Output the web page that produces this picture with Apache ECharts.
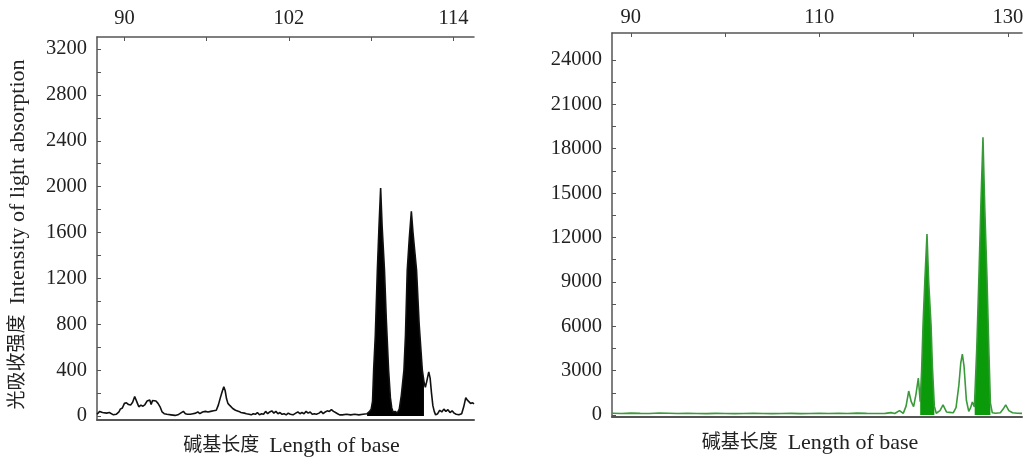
<!DOCTYPE html>
<html>
<head>
<meta charset="utf-8">
<script src="https://cdn.jsdelivr.net/npm/echarts@6/dist/echarts.min.js"></script>
<style>
  html, body { margin: 0; padding: 0; background: #fff; }
  #main { width: 1024px; height: 460px; }
</style>
</head>
<body>
<div id="main"></div>
<script>
// 左图：碱基长度 / 光吸收强度
var leftX = [88.0, 88.2, 88.4, 88.5, 88.7, 88.9, 89.0, 89.2, 89.4, 89.5, 89.6, 89.7, 89.85, 90.0, 90.15, 90.3, 90.45, 90.6, 90.75, 90.85,
  90.95, 91.05, 91.2, 91.35, 91.5, 91.65, 91.75, 91.85, 91.95, 92.05, 92.15, 92.3, 92.45, 92.6, 92.75, 92.9, 93.1, 93.4, 93.7, 93.9,
  94.1, 94.3, 94.45, 94.6, 94.8, 95.0, 95.2, 95.35, 95.5, 95.7, 95.9, 96.1, 96.3, 96.5, 96.7, 96.85, 97.0, 97.15, 97.25, 97.35,
  97.45, 97.55, 97.7, 97.8, 97.9, 98.0, 98.1, 98.2, 98.35, 98.5, 98.6, 98.75, 98.9, 99.0, 99.1, 99.25, 99.4, 99.55, 99.7, 99.85,
  100.0, 100.15, 100.3, 100.45, 100.6, 100.75, 100.9, 101.05, 101.2, 101.35, 101.5, 101.65, 101.8, 101.95, 102.1, 102.3, 102.5, 102.65, 102.8, 102.95,
  103.1, 103.25, 103.4, 103.55, 103.7, 103.85, 104.0, 104.2, 104.35, 104.5, 104.65, 104.8, 104.95, 105.1, 105.25, 105.4, 105.55, 105.7, 105.9, 106.2,
  106.5, 106.8, 107.1, 107.4, 107.7, 107.85, 108.0, 108.1, 108.18, 108.3, 108.45, 108.57, 108.69, 108.8, 108.97, 109.1, 109.27, 109.4, 109.5, 109.6,
  109.75, 109.9, 110.05, 110.2, 110.39, 110.5, 110.63, 110.78, 110.93, 111.05, 111.31, 111.5, 111.73, 111.85, 111.95, 112.05, 112.2, 112.3, 112.4, 112.5,
  112.6, 112.7, 112.85, 113.0, 113.15, 113.3, 113.45, 113.6, 113.75, 113.9, 114.05, 114.2, 114.4, 114.6, 114.75, 114.9, 115.0, 115.1, 115.25, 115.4, 115.5];
var leftY = [15, 40, 30, 35, 25, 30, 15, 10, 15, 10, 35, 60, 70, 110, 115, 100, 95, 120, 170, 160,
  110, 80, 95, 85, 100, 130, 120, 140, 100, 135, 145, 130, 110, 80, 35, 20, 15, 10, 5, 10,
  25, 40, 20, 15, 15, 20, 25, 35, 20, 35, 40, 35, 40, 45, 50, 95, 160, 220, 255, 220,
  150, 110, 90, 80, 65, 75, 50, 60, 40, 30, 45, 25, 20, 35, 15, 10, 20, 15, 30, 10,
  20, 15, 40, 20, 35, 45, 25, 40, 20, 30, 15, 20, 10, 25, 15, 10, 25, 35, 20, 30,
  20, 40, 25, 35, 15, 20, 15, 25, 40, 20, 35, 45, 40, 55, 40, 30, 20, 10, 10, 15,
  10, 15, 10, 15, 20, 35, 60, 130, 400, 700, 1270, 1650, 1987, 1650, 1270, 850, 400, 160, 70, 35,
  40, 25, 60, 180, 400, 700, 1270, 1550, 1785, 1600, 1270, 800, 400, 300, 250, 300, 385, 330, 200, 90,
  40, 10, 20, 50, 35, 60, 40, 55, 30, 45, 25, 15, 10, 20, 80, 160, 140, 150, 110, 115, 105];
var leftFill = [[107.7, 111.86]];
var leftTopTicks = [90, 96, 102, 108, 114];
var leftTopLabels = [90, 102, 114];
var leftYLabels = [0, 400, 800, 1200, 1600, 2000, 2400, 2800, 3200];
var leftYTicks = [0, 200, 400, 600, 800, 1000, 1200, 1400, 1600, 1800, 2000, 2200, 2400, 2600, 2800, 3000, 3200];

// 右图
var rightX = [88, 89, 90, 91, 92, 93, 94, 95, 96, 97, 98, 99, 100, 101, 102, 103, 104, 105, 106, 107,
  108, 109, 110, 111, 112, 113, 114, 115, 116, 117, 117.6, 118.0, 118.5, 118.9, 119.2, 119.48, 119.75, 120.0, 120.25, 120.5,
  120.7, 120.85, 121.0, 121.2, 121.42, 121.6, 121.85, 122.0, 122.2, 122.4, 122.8, 123.12, 123.5, 123.8, 124.2, 124.5, 124.8, 125.0, 125.17, 125.35,
  125.6, 125.85, 126.05, 126.23, 126.45, 126.48, 126.7, 126.93, 127.15, 127.36, 127.55, 127.78, 128.0, 128.15, 128.35, 128.7, 129.2, 129.5, 129.77, 130.1,
  130.5, 131, 131.5];
var rightY = [120, 100, 130, 110, 100, 140, 120, 100, 110, 100, 90, 110, 100, 90, 100, 110, 100, 90, 100, 110,
  90, 100, 120, 100, 110, 100, 130, 110, 100, 110, 160, 100, 300, 110, 600, 1620, 900, 560, 1400, 2500,
  900, 3000, 6100, 9200, 12230, 9000, 6100, 3200, 600, 120, 300, 680, 200, 180, 150, 500, 2000, 3500, 4120, 3300,
  1000, 250, 500, 880, 550, 600, 4500, 9400, 14500, 18780, 14000, 9400, 4000, 800, 150, 120, 150, 400, 680, 300,
  150, 120, 110];
var rightFill = [[120.65, 122.25], [126.46, 128.2]];
var rightTopTicks = [90, 100, 110, 120, 130];
var rightTopLabels = [90, 110, 130];
var rightYLabels = [0, 3000, 6000, 9000, 12000, 15000, 18000, 21000, 24000];
var rightYTicks = [0, 1500, 3000, 4500, 6000, 7500, 9000, 10500, 12000, 13500, 15000, 16500, 18000, 19500, 21000, 22500, 24000];

var FONT = "'Liberation Serif', 'Noto Sans CJK SC', serif";
var AXIS_COLOR = '#555';
var TEXT_COLOR = '#222';

function pairs(xs, ys) {
  return xs.map(function (x, i) { return [x, ys[i]]; });
}
function inRange(pts, r) {
  return pts.filter(function (p) { return p[0] >= r[0] && p[0] <= r[1]; });
}
function plain(v) { return String(v); }

var nameRich = {
  c: { fontFamily: FONT, fontSize: 19, color: TEXT_COLOR },
  e: { fontFamily: FONT, fontSize: 22, color: TEXT_COLOR }
};

var leftPts = pairs(leftX, leftY);
var rightPts = pairs(rightX, rightY);

function topAxis(gridIndex, min, max, ticks, labels, margin) {
  return {
    type: 'value', gridIndex: gridIndex, position: 'top', min: min, max: max,
    axisLine: { show: true, onZero: false, lineStyle: { color: AXIS_COLOR, width: 1.5 } },
    axisTick: { show: true, inside: true, length: 4, customValues: ticks, lineStyle: { color: AXIS_COLOR } },
    axisLabel: { show: true, customValues: labels, formatter: plain, margin: margin, color: TEXT_COLOR, fontFamily: FONT, fontSize: 20.5 },
    splitLine: { show: false }
  };
}
function bottomAxis(gridIndex, min, max, pad) {
  return {
    type: 'value', gridIndex: gridIndex, position: 'bottom', min: min, max: max,
    axisLine: { show: true, onZero: false, lineStyle: { color: AXIS_COLOR, width: 2 } },
    axisTick: { show: false },
    axisLabel: { show: false },
    splitLine: { show: false },
    name: '{c|碱基长度}  {e|Length of base}', nameLocation: 'middle', nameGap: 15,
    nameTextStyle: { color: TEXT_COLOR, fontFamily: FONT, fontSize: 20, padding: pad, rich: nameRich }
  };
}
function yAxis(gridIndex, min, max, ticks, labels, name) {
  return {
    type: 'value', gridIndex: gridIndex, min: min, max: max,
    axisLine: { show: true, onZero: false, lineStyle: { color: AXIS_COLOR, width: 1.5 } },
    axisTick: { show: true, inside: true, length: 4, customValues: ticks, lineStyle: { color: AXIS_COLOR } },
    axisLabel: { show: true, customValues: labels, formatter: plain, margin: 10, color: TEXT_COLOR, fontFamily: FONT, fontSize: 20.5 },
    splitLine: { show: false },
    name: name, nameLocation: 'middle', nameGap: 68,
    nameTextStyle: { color: TEXT_COLOR, fontFamily: FONT, fontSize: 20, padding: [0, 12, 0, 0], rich: nameRich }
  };
}

var series = [];
leftFill.forEach(function (r) {
  series.push({
    type: 'line', xAxisIndex: 1, yAxisIndex: 0, data: inRange(leftPts, r), symbol: 'none',
    lineStyle: { width: 0 }, areaStyle: { color: '#000', opacity: 1 }, z: 1
  });
});
series.push({
  type: 'line', xAxisIndex: 1, yAxisIndex: 0, data: leftPts, symbol: 'none',
  lineStyle: { color: '#111', width: 1.6 }, z: 2
});
rightFill.forEach(function (r) {
  series.push({
    type: 'line', xAxisIndex: 3, yAxisIndex: 1, data: inRange(rightPts, r), symbol: 'none',
    lineStyle: { width: 0 }, areaStyle: { color: '#0a9a0a', opacity: 1 }, z: 1
  });
});
series.push({
  type: 'line', xAxisIndex: 3, yAxisIndex: 1, data: rightPts, symbol: 'none',
  lineStyle: { color: '#3a9a3a', width: 1.6 }, z: 2
});

var myChart = echarts.init(document.getElementById('main'));
var option = {
  animation: false,
  backgroundColor: '#fff',
  grid: [
    { left: 97, top: 37, width: 377, height: 383, outerBoundsMode: 'none' },
    { left: 612, top: 33, width: 410, height: 384, outerBoundsMode: 'none' }
  ],
  xAxis: [
    topAxis(0, 88, 115.5, leftTopTicks, leftTopLabels, 8),
    bottomAxis(0, 88, 115.5, [0, 0, 0, 12]),
    topAxis(1, 88, 131.5, rightTopTicks, rightTopLabels, 5),
    bottomAxis(1, 88, 131.5, [0, 14, 0, 0])
  ],
  yAxis: [
    yAxis(0, -35, 3305, leftYTicks, leftYLabels, '{c|光吸收强度}  {e|Intensity of light absorption}'),
    yAxis(1, -135, 25825, rightYTicks, rightYLabels, '')
  ],
  series: series
};
myChart.setOption(option);
</script>
</body>
</html>
